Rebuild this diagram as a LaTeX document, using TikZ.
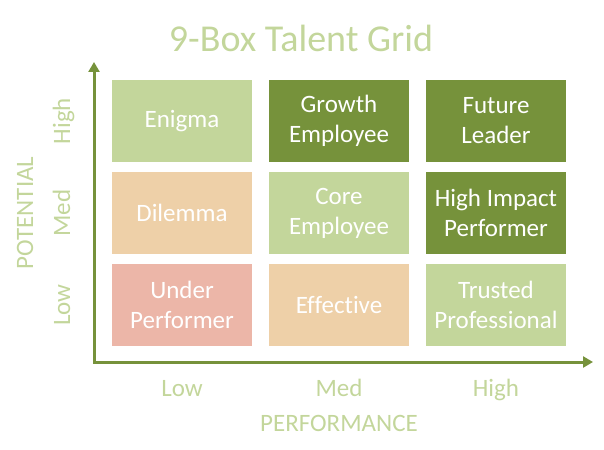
\documentclass[tikz,border=0pt]{standalone}
\usepackage{fontspec}
\setmainfont{Carlito}[Ligatures=NoCommon]
\definecolor{gridDark}{RGB}{118, 146, 59}
\definecolor{gridLight}{RGB}{195, 214, 155}
\definecolor{gridTan}{RGB}{238, 208, 168}
\definecolor{gridRose}{RGB}{236, 182, 168}
\usetikzlibrary{arrows.meta, positioning}

\begin{document}
\begin{tikzpicture}[x=1pt, y=-1pt,
  node distance=10pt and 17pt,
  box/.style={rectangle, minimum width=140pt, minimum height=82pt,
              inner sep=0pt, outer sep=0pt, align=center, text=white,
              font=\fontsize{25}{30}\selectfont},
  lbl/.style={text=gridLight, text height=17pt, text depth=5pt,
              font=\fontsize{25}{29}\selectfont},
  axis/.style={{Triangle[length=10pt, width=11pt]}-{Triangle[length=10pt, width=11pt]},
               line width=3pt, gridDark},
]
  \useasboundingbox (0,0) rectangle (604,449);

  % Title
  \node[text=gridLight, font=\fontsize{38}{42}\selectfont] (title) at (301,38) {9-Box Talent Grid};

  % Row High
  \node[box, fill=gridLight] (enigma) at (182,121) {Enigma};
  \node[box, fill=gridDark, right=of enigma] (growth) {Growth\\Employee};
  \node[box, fill=gridDark, right=of growth] (future) {Future\\Leader};

  % Row Med
  \node[box, fill=gridTan, below=of enigma] (dilemma) {Dilemma};
  \node[box, fill=gridLight, right=of dilemma] (core) {Core\\Employee};
  \node[box, fill=gridDark, right=of core] (impact) {High Impact\\Performer};

  % Row Low
  \node[box, fill=gridRose, below=of dilemma] (under) {Under\\Performer};
  \node[box, fill=gridTan, right=of under] (effective) {Effective};
  \node[box, fill=gridLight, right=of effective] (trusted) {Trusted\\Professional};

  % Axes
  \coordinate (origin) at (94,362);
  \coordinate (ytip) at (94,62);
  \coordinate (xtip) at (593,362);
  \draw[axis] (ytip) -- (origin) -- (xtip);

  % Performance labels
  \node[lbl] (plow) at (under |- 0,390) {Low};
  \node[lbl] (pmed) at (effective |- 0,390) {Med};
  \node[lbl] (phigh) at (trusted |- 0,390) {High};
  \node[lbl] (perf) at (effective |- 0,425) {PERFORMANCE};

  % Potential labels
  \node[lbl, rotate=90] (vhigh) at (64,0 |- enigma) {High};
  \node[lbl, rotate=90] (vmed) at (64,0 |- dilemma) {Med};
  \node[lbl, rotate=90] (vlow) at (64,0 |- under) {Low};
  \node[lbl, rotate=90] (pot) at (27,0 |- dilemma) {POTENTIAL};
\end{tikzpicture}
\end{document}
